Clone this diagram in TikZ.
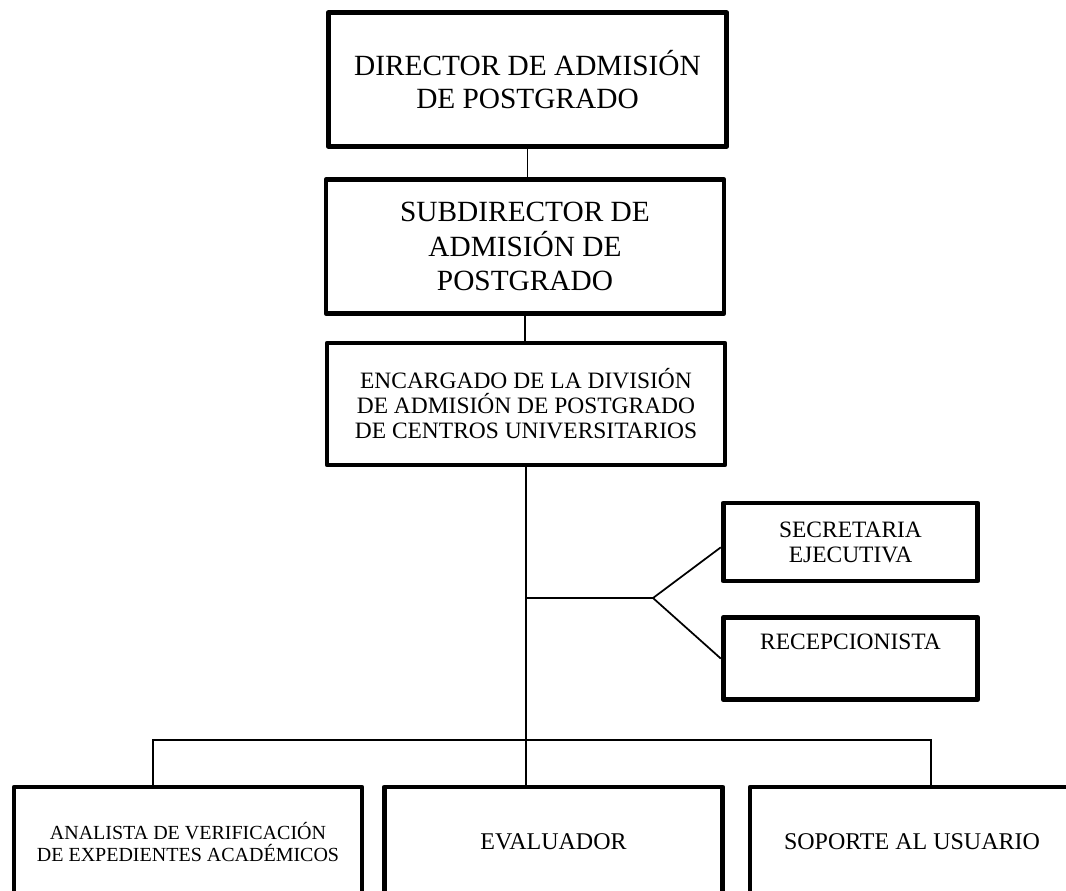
\documentclass[tikz,border=0pt]{standalone}
\usepackage{fontspec}
\setmainfont{Liberation Serif}
\usepackage{tikz}
\usetikzlibrary{positioning,calc}

\tikzset{
  postbox/.style={draw,line width=3.6pt,line join=round,align=center,inner sep=2pt},
  topfont/.style={font=\fontsize{22}{25}\selectfont},
  midfont/.style={font=\fontsize{17.6}{18.8}\selectfont},
  lowfont/.style={font=\fontsize{18}{19}\selectfont},
  link/.style={line width=1.3pt}
}

\begin{document}
\begin{tikzpicture}[x=0.75pt,y=-0.75pt]
  \clip (0,0) rectangle (1066,890);
  % upper chain
  \node[postbox,topfont,minimum width=299pt,minimum height=100pt] (dir) at (527.5,79.5) {DIRECTOR DE ADMISIÓN\\DE POSTGRADO};
  \node[postbox,topfont,minimum width=298.5pt,minimum height=100pt,font=\fontsize{22}{26}\selectfont] (sub) at (525,246.5) {SUBDIRECTOR DE\\ADMISIÓN DE\\POSTGRADO};
  \node[postbox,midfont,minimum width=298.5pt,minimum height=91.5pt] (enc) at (526,404) {ENCARGADO DE LA DIVISIÓN\\DE ADMISIÓN DE POSTGRADO\\DE CENTROS UNIVERSITARIOS};
  % staff on the side
  \node[postbox,midfont,minimum width=191pt,minimum height=58.5pt] (sec) at (850.5,542) {SECRETARIA\\EJECUTIVA};
  \node[postbox,midfont,minimum width=191pt,minimum height=62pt] (rec) at (850.5,658.5) {RECEPCIONISTA\\ \strut};
  % lower row (cut by the page edge)
  \node[postbox,font=\fontsize{15}{15.8}\selectfont,minimum width=261pt,minimum height=82.5pt] (ana) at (188,842) {ANALISTA DE VERIFICACIÓN\\DE EXPEDIENTES ACADÉMICOS};
  \node[postbox,lowfont,minimum width=254pt,minimum height=82.5pt] (eva) at (553.5,842) {EVALUADOR};
  \node[postbox,lowfont,minimum width=243pt,minimum height=82.5pt] (sop) at (912,842) {SOPORTE AL USUARIO};
  % connectors
  \coordinate (split) at (653,598);
  \coordinate (busL) at (153,740);
  \coordinate (busR) at (931,740);
  \draw[link] (dir.south) -- (dir.south |- sub.north);
  \draw[link] (sub.south) -- (sub.south |- enc.north);
  \draw[link] (enc.south) -- (enc.south |- eva.north);
  \draw[link] (enc.south |- split) -- (split) -- ([yshift=-4pt]sec.west);
  \draw[link] (split) -- (rec.west);
  \draw[link] (busL |- ana.north) -- (busL) -- (busR) -- (busR |- sop.north);
\end{tikzpicture}
\end{document}
